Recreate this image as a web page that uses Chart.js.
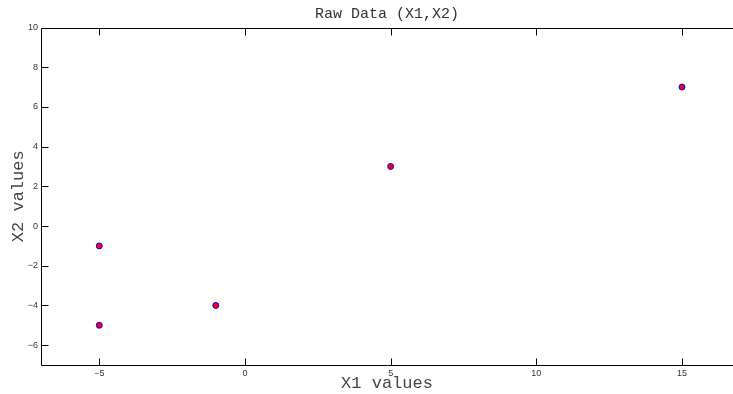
<!DOCTYPE html>
<html>
<head>
<meta charset="utf-8">
<script src="https://cdn.jsdelivr.net/npm/chart.js@4/dist/chart.umd.min.js"></script>
<style>
  html, body { margin: 0; padding: 0; background: #fff; }
  #myChart { display: block; }
</style>
</head>
<body>
<canvas id="myChart" width="733" height="394"></canvas>
<script>
// raw data points
var x1Values = [-5, -5, -1, 5, 15];
var x2Values = [-1, -5, -4, 3, 7];
var xTicks = [-5, 0, 5, 10, 15];
var yTicks = [-6, -4, -2, 0, 2, 4, 6, 8, 10];

var points = x1Values.map(function (x, i) { return { x: x, y: x2Values[i] }; });

function minus(v) { return String(v).replace('-', '\u2212'); }

// matlab style box with inward ticks
var boxPlugin = {
    id: 'box',
    afterDraw: function (chart) {
        var c = chart.ctx, a = chart.chartArea;
        var xs = chart.scales.x, ys = chart.scales.y;
        var L = Math.round(a.left) + 0.5, T = Math.round(a.top) + 0.5, B = Math.round(a.bottom) + 0.5;
        c.save();
        c.strokeStyle = '#000';
        c.lineWidth = 1;
        c.beginPath();
        c.moveTo(a.right, T); c.lineTo(L, T); c.lineTo(L, B); c.lineTo(a.right, B);
        xTicks.forEach(function (v) {
            var px = Math.round(xs.getPixelForValue(v)) + 0.5;
            c.moveTo(px, B); c.lineTo(px, B - 7);
            c.moveTo(px, T); c.lineTo(px, T + 7);
        });
        yTicks.forEach(function (v) {
            var py = Math.round(ys.getPixelForValue(v)) + 0.5;
            c.moveTo(L, py); c.lineTo(L + 7, py);
        });
        c.stroke();
        c.restore();
    }
};

var ctx = document.getElementById("myChart").getContext('2d');
var myChart = new Chart(ctx, {
    type: 'scatter',
    data: {
        datasets: [{
            data: points,
            backgroundColor: '#ff0000',
            borderColor: '#0000ff',
            borderWidth: 1,
            pointRadius: 3,
            pointHoverRadius: 3
        }]
    },
    options: {
        responsive: false,
        animation: false,
        layout: { padding: 0, autoPadding: false },
        plugins: {
            legend: { display: false },
            tooltip: { enabled: false },
            title: {
                display: true,
                text: 'Raw Data (X1,X2)',
                fullSize: false,
                color: '#333',
                font: { family: '"Liberation Mono", monospace', size: 15, weight: 'normal' },
                padding: { top: 5, bottom: 4.5 }
            }
        },
        scales: {
            x: {
                type: 'linear',
                min: -7,
                max: 16.75,
                afterBuildTicks: function (s) { s.ticks = xTicks.map(function (v) { return { value: v }; }); },
                afterFit: function (s) { s.height = 29; },
                grid: { display: false, drawTicks: false },
                border: { display: false },
                ticks: {
                    color: '#333',
                    padding: 3,
                    maxRotation: 0,
                    font: { family: '"Liberation Sans", Arial, sans-serif', size: 9 },
                    callback: function (v) { return minus(v); }
                },
                title: {
                    display: true,
                    text: 'X1 values',
                    color: '#444',
                    font: { family: '"Liberation Mono", monospace', size: 17 },
                    padding: { top: 0, bottom: 0 }
                }
            },
            y: {
                type: 'linear',
                min: -7,
                max: 10,
                afterBuildTicks: function (s) { s.ticks = yTicks.map(function (v) { return { value: v }; }); },
                afterFit: function (s) { s.width = 41; },
                grid: { display: false, drawTicks: false },
                border: { display: false },
                ticks: {
                    color: '#333',
                    padding: 3,
                    font: { family: '"Liberation Sans", Arial, sans-serif', size: 9 },
                    callback: function (v) { return minus(v); }
                },
                title: {
                    display: true,
                    text: 'X2 values',
                    color: '#444',
                    font: { family: '"Liberation Mono", monospace', size: 17 },
                    padding: { top: 8, bottom: 0 }
                }
            }
        }
    },
    plugins: [boxPlugin]
});
</script>
</body>
</html>
